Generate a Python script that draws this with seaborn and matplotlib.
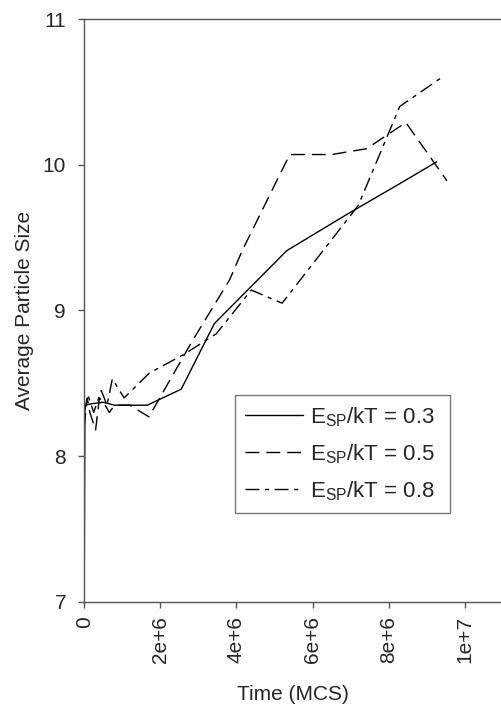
import numpy as np
import pandas as pd
import matplotlib
matplotlib.use("Agg")
import matplotlib.pyplot as plt
import seaborn as sns

# ---- data (time in MCS, average particle size) ----
t_03 = [0.0, 0.02e6, 0.2e6, 0.5e6, 0.8e6, 1.66e6, 2.55e6, 3.42e6, 5.32e6, 6.97e6, 8.29e6, 9.26e6]
s_03 = [7.0, 8.35, 8.36, 8.37, 8.35, 8.35, 8.46, 8.91, 9.41, 9.67, 9.87, 10.02]

t_05 = [0.0, 0.08e6, 0.15e6, 0.3e6, 0.4e6, 0.55e6, 0.66e6, 0.8e6, 1.2e6, 1.7e6, 2.84e6, 3.82e6,
        4.15e6, 5.4e6, 6.5e6, 7.42e6, 8.45e6, 9.53e6]
s_05 = [8.2, 8.4, 8.3, 8.18, 8.4, 8.35, 8.3, 8.35, 8.35, 8.27, 8.79, 9.21,
        9.41, 10.07, 10.07, 10.11, 10.29, 9.89]

t_08 = [0.0, 0.1e6, 0.25e6, 0.45e6, 0.6e6, 0.74e6, 1.05e6, 1.71e6, 2.63e6, 3.47e6, 4.39e6,
        5.2e6, 7.2e6, 8.29e6, 9.4e6]
s_08 = [8.3, 8.42, 8.3, 8.45, 8.35, 8.53, 8.40, 8.57, 8.70, 8.84, 9.14,
        9.05, 9.72, 10.40, 10.60]

labels = ["E$_{SP}$/kT = 0.3", "E$_{SP}$/kT = 0.5", "E$_{SP}$/kT = 0.8"]
xticks = [0, 2e6, 4e6, 6e6, 8e6, 1e7]
xticklabels = ["0", "2e+6", "4e+6", "6e+6", "8e+6", "1e+7"]
yticks = [7, 8, 9, 10, 11]

df = pd.concat([
    pd.DataFrame({"t": t_03, "size": s_03, "series": labels[0]}),
    pd.DataFrame({"t": t_05, "size": s_05, "series": labels[1]}),
    pd.DataFrame({"t": t_08, "size": s_08, "series": labels[2]}),
], ignore_index=True)

sns.set_theme(style="ticks")
plt.rcParams["font.family"] = ["Liberation Sans", "DejaVu Sans"]
plt.rcParams["mathtext.fontset"] = "custom"
plt.rcParams["mathtext.rm"] = "Liberation Sans"
plt.rcParams["mathtext.it"] = "Liberation Sans"
plt.rcParams["mathtext.default"] = "regular"

fig = plt.figure(figsize=(5.01, 7.04), dpi=100)
ax = fig.add_axes([0.168, 0.145, 0.832, 0.828])

dashes = {labels[0]: "", labels[1]: (10, 5), labels[2]: (10, 4, 3, 4)}
sns.lineplot(data=df, x="t", y="size", style="series", dashes=dashes,
             color="black", linewidth=1.0, sort=False, estimator=None, ax=ax)

ax.set_xlim(0, 10.95e6)
ax.set_ylim(7, 11)
ax.set_xticks(xticks)
ax.set_xticklabels(xticklabels, rotation=90, fontsize=15)
ax.set_yticks(yticks)
ax.set_yticklabels([str(v) for v in yticks], fontsize=15)
ax.tick_params(direction="out", length=4, width=1, color="#555555")
ax.tick_params(axis="x", pad=6)
ax.tick_params(axis="y", pad=9)
ax.set_xlabel("Time (MCS)", fontsize=15, labelpad=16)
ax.set_ylabel("Average Particle Size", fontsize=15, labelpad=6)

for side in ["left", "bottom", "top"]:
    ax.spines[side].set_visible(True)
    ax.spines[side].set_color("#555555")
    ax.spines[side].set_linewidth(1.0)
ax.spines["right"].set_visible(False)

handles, labs = ax.get_legend_handles_labels()
leg = ax.legend(handles, labs, loc="lower left", bbox_to_anchor=(0.362, 0.153, 0.516, 0.202),
                mode="expand", borderaxespad=0, fontsize=16, frameon=True, fancybox=False,
                edgecolor="#555555", handlelength=2.6, handletextpad=0.3,
                labelspacing=0.6, borderpad=0.45)
leg.get_frame().set_linewidth(1.0)

fig.savefig("out.png", dpi=100)
